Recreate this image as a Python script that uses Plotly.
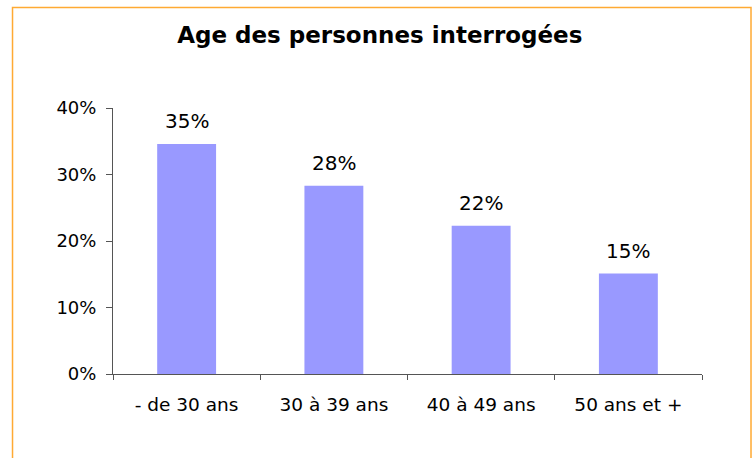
import plotly.graph_objects as go

categories = ["- de 30 ans", "30 à 39 ans", "40 à 49 ans", "50 ans et +"]
values = [0.346, 0.283, 0.223, 0.151]
labels = ["35%", "28%", "22%", "15%"]
y_ticks = [0, 0.1, 0.2, 0.3, 0.4]
y_tick_labels = ["0%", "10%", "20%", "30%", "40%"]

FONT = "DejaVu Sans"

fig = go.Figure()
fig.add_trace(go.Bar(
    x=categories, y=values,
    marker=dict(color="#9999FF", line=dict(width=0)),
    hoverinfo="skip",
))

for c, v, t in zip(categories, values, labels):
    fig.add_annotation(x=c, y=v, text=t, showarrow=False, yanchor="bottom",
                       yshift=9, font=dict(family=FONT, size=20, color="#000"))

fig.add_shape(type="rect", xref="paper", yref="paper",
              x0=-0.1706, x1=1.0832, y0=-0.35, y1=1.378,
              line=dict(color="#FFAA33", width=1.5), layer="below")

fig.update_layout(
    width=755, height=458,
    margin=dict(l=113, r=53, t=108, b=84),
    paper_bgcolor="white", plot_bgcolor="white",
    bargap=0.6,
    showlegend=False,
    title=dict(text="<b>Age des personnes interrogées</b>", x=0.503, xanchor="center",
               y=1 - 35 / 458, yanchor="middle", yref="container",
               font=dict(family=FONT, size=23, color="#000")),
    font=dict(family=FONT, size=18, color="#000"),
)
fig.update_xaxes(
    type="category", showline=True, linecolor="#555", linewidth=1,
    ticks="outside", ticklen=5, tickcolor="#555", tickson="boundaries",
    showgrid=False, tickfont=dict(family=FONT, size=18.5, color="#000"),
    ticklabelstandoff=14,
)
fig.update_yaxes(
    range=[0, 0.4], tickvals=y_ticks, ticktext=y_tick_labels,
    showline=True, linecolor="#555", linewidth=1,
    ticks="outside", ticklen=6, tickcolor="#555",
    showgrid=False, zeroline=False,
    tickfont=dict(family=FONT, size=18, color="#000"),
    ticklabelstandoff=6,
)

fig.write_html("out.html", config={"displayModeBar": False},
               post_script="document.body.style.margin='0';")
